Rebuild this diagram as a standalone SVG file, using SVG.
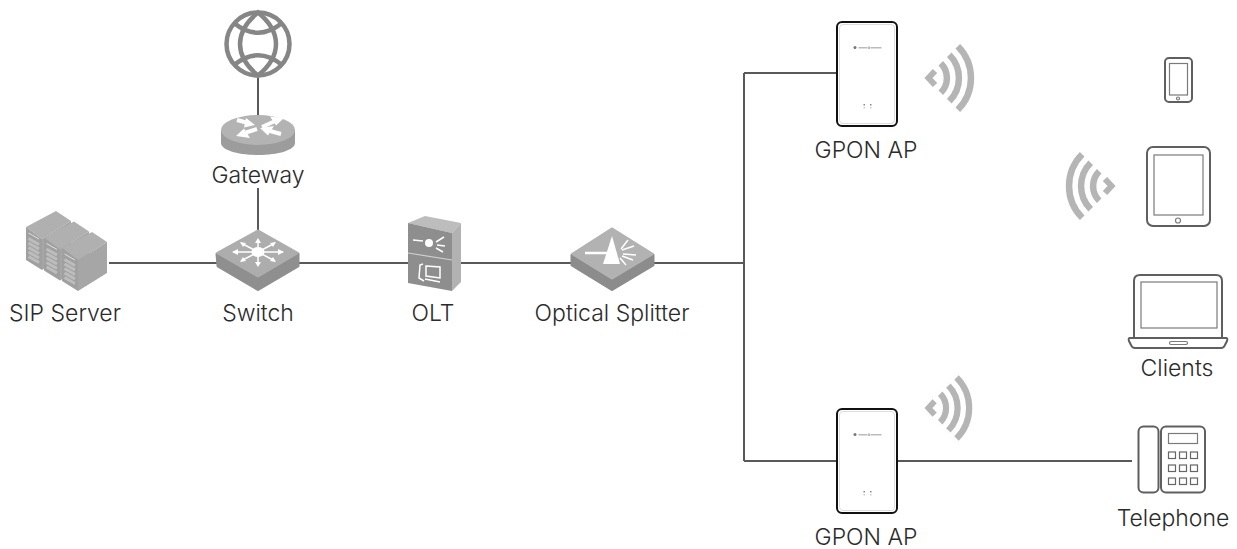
<svg xmlns="http://www.w3.org/2000/svg" xmlns:xlink="http://www.w3.org/1999/xlink" width="1237" height="549" viewBox="0 0 1237 549">
<style>
text{font-family:"Inter","Roboto","Liberation Sans",sans-serif;font-weight:300;font-size:23px;fill:#2b2b2b;text-anchor:middle}
.ln{fill:none;stroke:#595959;stroke-width:2}
.wf{fill:none;stroke:#b5b5b5;stroke-width:6.500}
.dev{fill:#fff;stroke:#5f5f5f;stroke-width:2}
.thin{fill:#fff;stroke:#7a7a7a;stroke-width:1.200}
.wh{fill:none;stroke:#fff;stroke-width:1.500}
.whb{fill:none;stroke:#fff;stroke-width:4}
.whf{fill:#fff}
.rj{stroke-linejoin:round;stroke-width:3}
</style>
<defs>
<g id="ap">
<rect x="837" y="0" width="60" height="104" rx="5" fill="#fff" stroke="#111" stroke-width="2"/>
<rect x="839.500" y="2.500" width="55" height="99" rx="3.500" fill="none" stroke="#ddd" stroke-width="1"/>
<circle cx="855" cy="25.500" r="1.500" fill="#777"/>
<rect x="858.500" y="25" width="9" height="1.500" fill="#bbb"/><rect x="868.500" y="24.500" width="1" height="2.500" fill="#777"/><rect x="870.500" y="25" width="11" height="1.500" fill="#bbb"/>
<rect x="863.500" y="82" width="1.500" height="1.500" fill="#888"/><rect x="870" y="82" width="1.500" height="1.500" fill="#888"/>
<rect x="863.500" y="85" width="1.500" height="1.500" fill="#ccc"/><rect x="870" y="85" width="1.500" height="1.500" fill="#ccc"/>
</g>
<g id="wifi">
<path class="wf" d="M935 71L928.500 78L935 85" style="stroke-width:6"/>
<path class="wf" d="M940.800 63.200A21 21 0 0 1 940.800 92.800"/>
<path class="wf" d="M949.300 54.700A33 33 0 0 1 949.300 101.300"/>
<path class="wf" d="M957.800 46.200A45 45 0 0 1 957.800 109.800"/>
</g>
<g id="srv">
<path d="M26 227L56 211L71 221L42 239Z" fill="#b0b0b0"/>
<path d="M26 227L42 239V270L26 260Z" fill="#a0a0a0"/>
<path d="M42 239L71 221V252L42 270Z" fill="#a6a6a6"/>
<path d="M28.500 233L39 239" stroke="#e0e0e0" stroke-width="1"/>
<path d="M28.500 238.500L39 244.500M28.500 243L39 249M28.500 247.500L39 253.500M28.500 252L39 258M28.500 256.500L39 262.500" stroke="#bdbdbd" stroke-width="3"/>
</g>
</defs>
<g id="connectors">
<path class="ln" d="M258 78V116M258 188V230M109 263H217M299 263H409M461 263H572M654 263H744M744 73V461M744 73H837M744 461H837M897 461H1132"/>
</g>
<g id="globe" fill="none" stroke="#868686" stroke-width="4.500">
<circle cx="258" cy="44" r="31.500"/>
<path d="M258 12.500C234 32 234 56 258 75.500C282 56 282 32 258 12.500Z"/>
<path d="M234 23C250 36 266 36 282 23M234 65C250 52 266 52 282 65"/>
</g>
<g id="gateway">
<path d="M221 130V143C221 150 238 155 258 155S295 150 295 143V130Z" fill="#9c9c9c"/>
<ellipse cx="258" cy="130" rx="37" ry="15" fill="#b3b3b3"/>
<path class="whb" d="M237 120L248 123M262 127L274 121.500M257 129L246 132.500M281 134L270 131"/>
<path class="whf" d="M255 125L246 118L244 127.500ZM284 118L270 116.500L276 125.500ZM236 136L250 138L244 128.500ZM260 128L274 126L268 135.500Z"/>
<text x="258" y="183">Gateway</text>
</g>
<g id="sip-server">
<use href="#srv" xlink:href="#srv"/>
<use href="#srv" xlink:href="#srv" transform="translate(18 10.500)"/>
<use href="#srv" xlink:href="#srv" transform="translate(36 21)"/>
<text x="65" y="321">SIP Server</text>
</g>
<g id="switch">
<path class="rj" d="M217 254L258 277L298 254V266L258 289.500L218 266Z" fill="#8f8f8f" stroke="#8f8f8f"/>
<path class="rj" d="M258 231L297 253L258 276L218 253Z" fill="#adadad" stroke="#adadad"/>
<ellipse cx="258" cy="252" rx="6.500" ry="5" class="whf"/>
<path class="wh" d="M233 252H283M258 240V265M241 243L275 261M275 243L241 261"/>
<path class="whf" d="M232 252L238 249V255ZM284 252L278 249V255ZM258 238L255 243H261ZM258 267L255 262H261ZM240 242L246 243L243 247ZM276 242L270 243L273 247ZM240 262L246 261L243 257ZM276 262L270 261L273 257Z"/>
<text x="258" y="321">Switch</text>
</g>
<g id="olt">
<path d="M408 223L425 216L461 223L452 233Z" fill="#bdbdbd"/>
<path d="M452 233L461 223V282L452 291Z" fill="#b2b2b2"/>
<path d="M408 223L452 233V291L408 283Z" fill="#8e8e8e"/>
<path d="M408 253L452 260" stroke="#cfcfcf" stroke-width="1.200" fill="none"/>
<circle cx="429" cy="243" r="4" class="whf"/>
<path class="wh" d="M413 240L423 241M436 242L444 237M437 245L445 246M436 248L443 252"/>
<path class="wh" d="M423 264L420 265L419 278L424 281M426 266L440 267V278L426 276ZM425 279L440 282"/>
<text x="433" y="321">OLT</text>
</g>
<g id="optical-splitter">
<path class="rj" d="M572 255L612 279L653 255V265L612 289.500L572 265Z" fill="#8c8c8c" stroke="#8c8c8c"/>
<path class="rj" d="M612 229L652 254L612 278L573 254Z" fill="#b2b2b2" stroke="#b2b2b2"/>
<path class="whf" d="M612 236L603 264H620Z"/>
<path d="M585 253H608" stroke="#fff" stroke-width="2.500"/>
<path class="wh" d="M621 249L628 240M622 250L634 246M623 254L636 255M622 256L633 260M620 258L626 265"/>
<text x="612" y="321">Optical Splitter</text>
</g>
<g id="gpon-ap-1">
<use href="#ap" xlink:href="#ap" y="22"/>
<use href="#wifi" xlink:href="#wifi"/>
<text x="866" y="158">GPON AP</text>
</g>
<g id="gpon-ap-2">
<use href="#ap" xlink:href="#ap" y="409"/>
<use href="#wifi" xlink:href="#wifi" transform="translate(926 408) scale(.96) translate(-926 -78)"/>
<text x="866" y="545">GPON AP</text>
</g>
<g id="phone">
<rect class="dev" x="1165" y="58" width="27" height="44" rx="4"/>
<rect class="thin" x="1169.500" y="63.500" width="18" height="31.500"/>
<circle cx="1178" cy="98.500" r="1.500" class="thin"/>
</g>
<g id="tablet">
<rect class="dev" x="1147" y="147" width="63" height="79" rx="6"/>
<rect class="thin" x="1154" y="155" width="49" height="60"/>
<circle cx="1178" cy="220.500" r="2.500" class="thin"/>
</g>
<use id="wifi-clients" href="#wifi" xlink:href="#wifi" transform="translate(2040 108) scale(-1 1)"/>
<g id="laptop">
<path class="dev" d="M1134 337V281Q1134 275 1140 275H1216Q1222 275 1222 281V337"/>
<rect class="thin" x="1141" y="282" width="76" height="46"/>
<path class="dev" d="M1130 338H1226Q1228 338 1227 341L1225 345Q1224 348 1221 348H1135Q1132 348 1131 345L1129 341Q1128 338 1130 338Z"/>
<rect class="thin" x="1169.500" y="341.500" width="18" height="3" rx="1.500"/>
<text x="1177" y="376">Clients</text>
</g>
<g id="telephone">
<rect class="dev" x="1138.500" y="426.500" width="20" height="66" rx="5"/>
<rect class="dev" x="1161" y="426.500" width="44" height="66" rx="5"/>
<rect class="thin" x="1168.500" y="433.500" width="29" height="10"/>
<g fill="#fff" stroke="#666" stroke-width="1.200">
<rect x="1168.500" y="452" width="7" height="6.500"/><rect x="1179.500" y="452" width="7" height="6.500"/><rect x="1190.500" y="452" width="7" height="6.500"/>
<rect x="1168.500" y="465" width="7" height="6.500"/><rect x="1179.500" y="465" width="7" height="6.500"/><rect x="1190.500" y="465" width="7" height="6.500"/>
<rect x="1168.500" y="478" width="7" height="6.500"/><rect x="1179.500" y="478" width="7" height="6.500"/><rect x="1190.500" y="478" width="7" height="6.500"/>
</g>
<text x="1173" y="526">Telephone</text>
</g>
</svg>
